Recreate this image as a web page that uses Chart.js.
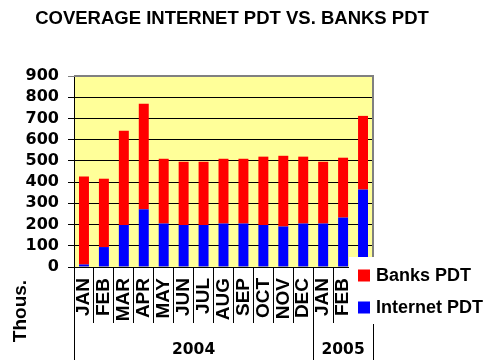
<!DOCTYPE html>
<html>
<head>
<meta charset="utf-8">
<script src="https://cdn.jsdelivr.net/npm/chart.js@4/dist/chart.umd.min.js"></script>
<style>
  html, body { margin: 0; padding: 0; background: #fff; }
  #wrap { width: 500px; height: 360px; position: relative; }
</style>
</head>
<body>
<div id="wrap"><canvas id="c" width="500" height="360"></canvas></div>
<script>
const title = 'COVERAGE INTERNET PDT VS. BANKS PDT';
const months = ['JAN','FEB','MAR','APR','MAY','JUN','JUL','AUG','SEP','OCT','NOV','DEC','JAN','FEB','MAR'];
const years = ['2004', '2005'];
const yearCounts = [12, 3];
const internetPDT = [12, 94, 198, 272, 205, 198, 198, 205, 205, 198, 191, 205, 205, 233, 365];
const banksPDT = [414, 322, 444, 497, 305, 298, 298, 305, 305, 322, 333, 315, 291, 282, 347];
const yMin = 0, yMax = 900, yStep = 100;
const yTitle = 'Thous.';

const FONT = '"Liberation Sans", Arial, sans-serif';
const WIDE = '"DejaVu Sans", sans-serif';

const custom = {
  id: 'custom',
  beforeDraw(chart) {
    const { ctx, chartArea: a } = chart;
    ctx.save();
    ctx.fillStyle = '#FFFF99';
    ctx.fillRect(a.left, a.top, a.right - a.left, a.bottom - a.top);
    ctx.restore();
  },
  afterDraw(chart) {
    const { ctx, chartArea: a } = chart;
    const xs = chart.scales.x;
    ctx.save();
    // plot border (top/right) gray
    ctx.strokeStyle = '#808080';
    ctx.lineWidth = 2;
    ctx.beginPath();
    ctx.moveTo(a.left, a.top);
    ctx.lineTo(a.right, a.top);
    ctx.lineTo(a.right, a.bottom);
    ctx.stroke();

    // title
    ctx.fillStyle = '#000';
    ctx.font = 'bold 18.5px ' + FONT;
    ctx.textAlign = 'center';
    ctx.textBaseline = 'middle';
    ctx.fillText(title, 232, 19);

    // year groups
    const half = (xs.getPixelForValue(1) - xs.getPixelForValue(0)) / 2;
    let start = 0;
    ctx.strokeStyle = '#000';
    ctx.lineWidth = 1;
    ctx.font = 'bold 15.5px ' + WIDE;
    const bounds = [];
    years.forEach((y, i) => {
      const end = start + yearCounts[i] - 1;
      const x0 = xs.getPixelForValue(start) - half;
      const x1 = xs.getPixelForValue(end) + half;
      bounds.push(x0, x1);
      ctx.fillText(y, (x0 + x1) / 2, 350);
      start = end + 1;
    });
    [...new Set(bounds.map(b => Math.round(b)))].forEach(b => {
      ctx.beginPath();
      ctx.moveTo(b + 0.5, a.bottom);
      ctx.lineTo(b + 0.5, 360);
      ctx.stroke();
    });

    // y title
    ctx.save();
    ctx.translate(21, 311);
    ctx.rotate(-Math.PI / 2);
    ctx.font = 'bold 19px ' + FONT;
    ctx.fillText(yTitle, 0, 0);
    ctx.restore();

    // legend
    ctx.fillStyle = '#fff';
    ctx.fillRect(349, 257, 151, 67);
    const items = [chart.data.datasets[1], chart.data.datasets[0]];
    ctx.font = 'bold 18px ' + FONT;
    ctx.textAlign = 'left';
    items.forEach((ds, i) => {
      const yc = 275.5 + i * 32;
      ctx.fillStyle = ds.backgroundColor;
      ctx.fillRect(358, yc - 6, 12, 12);
      ctx.fillStyle = '#000';
      ctx.fillText(ds.label, 376, yc + 0.5);
    });
    ctx.restore();
  }
};

new Chart(document.getElementById('c'), {
  type: 'bar',
  data: {
    labels: months,
    datasets: [
      { label: 'Internet PDT', data: internetPDT, backgroundColor: '#0000FF', barPercentage: 0.5, categoryPercentage: 1 },
      { label: 'Banks PDT', data: banksPDT, backgroundColor: '#FF0000', barPercentage: 0.5, categoryPercentage: 1 }
    ]
  },
  options: {
    responsive: false,
    animation: false,
    layout: { padding: { top: 76, right: 127, left: 0, bottom: 0 } },
    plugins: { legend: { display: false }, title: { display: false }, tooltip: { enabled: false } },
    scales: {
      x: {
        stacked: true,
        offset: true,
        afterFit(s) { s.height = 93; },
        grid: { offset: true, drawOnChartArea: false, drawTicks: true, tickLength: 56, color: '#000', lineWidth: 1 },
        border: { display: true, color: '#000', width: 1 },
        ticks: {
          autoSkip: false, maxRotation: 90, minRotation: 90, padding: -45,
          color: '#000', font: { family: FONT, size: 19, weight: 'bold' }
        }
      },
      y: {
        stacked: true,
        min: yMin, max: yMax,
        afterFit(s) { s.width = 74; },
        grid: {
          color: (c) => (c.tick && c.tick.value === yMax ? '#808080' : '#000'),
          lineWidth: 1, drawTicks: true, tickLength: 6
        },
        border: { display: true, color: '#000', width: 1 },
        ticks: {
          stepSize: yStep, autoSkip: false, padding: 9, color: '#000',
          font: { family: WIDE, size: 16, weight: 'bold' }
        }
      }
    }
  },
  plugins: [custom]
});
</script>
</body>
</html>
